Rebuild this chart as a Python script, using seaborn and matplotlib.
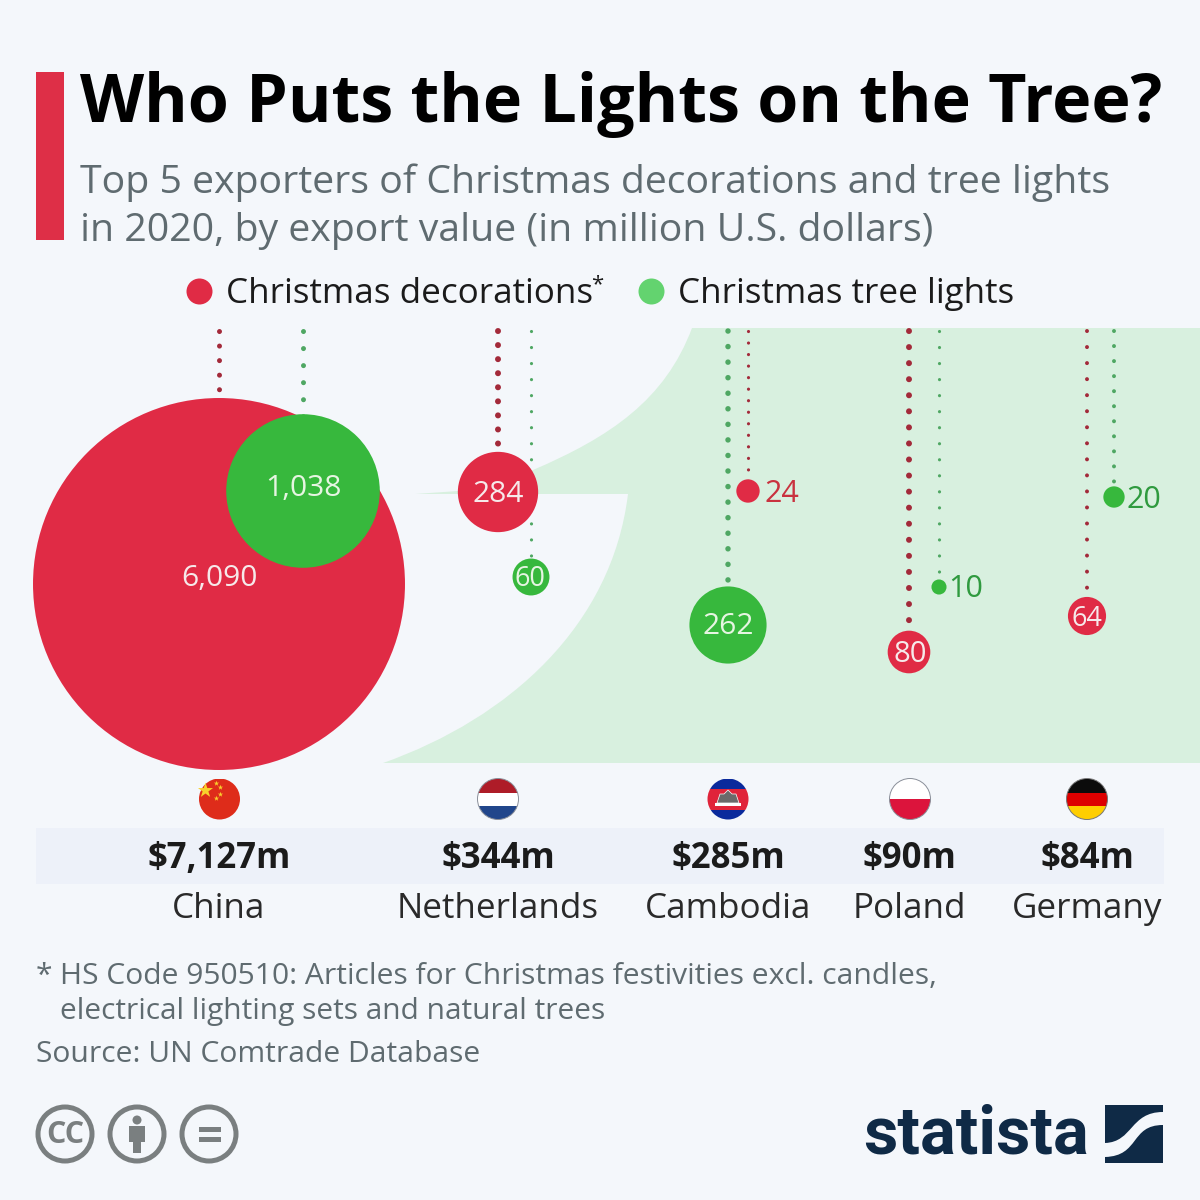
import numpy as np
import pandas as pd
import matplotlib
matplotlib.use('Agg')
import matplotlib.pyplot as plt
import seaborn as sns
from matplotlib.patches import Circle, PathPatch, Rectangle, Polygon
from matplotlib.path import Path

countries = ['China', 'Netherlands', 'Cambodia', 'Poland', 'Germany']
totals = ['$7,127m', '$344m', '$285m', '$90m', '$84m']
decorations = [6090, 284, 24, 80, 64]
tree_lights = [1038, 60, 262, 10, 20]
decoration_labels = ['6,090', '284', '24', '80', '64']
light_labels = ['1,038', '60', '262', '10', '20']

# layout, in pixels of the 1200x1200 picture
col_x = [219, 498, 728, 909, 1087]
red_x = [219, 498, 748, 909, 1087]
green_x = [303, 531, 728, 939, 1114]
red_y = [584, 492, 491, 652, 616]
green_y = [491, 577, 625, 587, 497]
red_dots = [(5, 14.5), (6, 14), (3.2, 11.5), (6, 16), (4, 16)]
green_dots = [(5, 17), (3.2, 16), (5.5, 15.5), (3.2, 16), (4, 15)]

BG = '#f4f7fb'
RED = '#e02b45'
GREEN = '#37b83d'
NAVY = '#0f2a46'
GREY = '#5f6b70'
PX = 0.72  # points per pixel at dpi 100
AREA = 5.68  # squared pixel radius per million dollars

sns.set_theme(style='white')
plt.rcParams['font.family'] = ['Open Sans', 'DejaVu Sans']

fig = plt.figure(figsize=(12, 12), dpi=100, facecolor=BG)
ax = fig.add_axes([0, 0, 1, 1])
ax.set_xlim(0, 1200)
ax.set_ylim(1200, 0)
ax.axis('off')

# tree silhouette in the background
tree = Path(
    [(692, 328), (1200, 328), (1200, 763), (383, 763),
     (510, 718), (612, 625), (628, 494),
     (415, 494), (458, 491),
     (498, 490), (533, 470),
     (610, 437), (665, 400), (692, 328), (692, 328)],
    [Path.MOVETO, Path.LINETO, Path.LINETO, Path.LINETO,
     Path.CURVE4, Path.CURVE4, Path.CURVE4,
     Path.LINETO, Path.LINETO,
     Path.LINETO, Path.LINETO,
     Path.CURVE4, Path.CURVE4, Path.CURVE4, Path.CLOSEPOLY])
ax.add_patch(PathPatch(tree, fc='#d8f0df', ec='none', zorder=0))

# strings
for xs, ys, dots, col in [(red_x, red_y, red_dots, '#a32a3a'), (green_x, green_y, green_dots, '#4fa763')]:
    for x, y, (w, gap) in zip(xs, ys, dots):
        ax.plot([x, x], [331, y], color=col, lw=w * PX, solid_capstyle='round',
                dash_capstyle='round', dashes=(0.01, gap / w), zorder=1)

# ornaments, area proportional to value
df = pd.DataFrame({
    'x': red_x + green_x,
    'y': red_y + green_y,
    'value': decorations + tree_lights,
    'series': ['decorations'] * 5 + ['lights'] * 5,
})
k = AREA * 4 * PX ** 2
vmin, vmax = df['value'].min(), df['value'].max()
sns.scatterplot(data=df, x='x', y='y', size='value', sizes=(k * vmin, k * vmax), size_norm=(vmin, vmax),
                hue='series', palette={'decorations': RED, 'lights': GREEN}, linewidth=0,
                legend=False, ax=ax, zorder=3)
ax.set_xlim(0, 1200)
ax.set_ylim(1200, 0)
ax.axis('off')

# value labels
def label(x, y, s, col='#f6e9ea', ha='center', size=21.6):
    ax.text(x, y, s, color=col, fontsize=size, ha=ha, va='center', zorder=5)

label(219, 578, decoration_labels[0])
label(303, 488, light_labels[0], '#e6f5e2')
label(498, 494, decoration_labels[1])
label(530, 579, light_labels[1], '#e6f5e2', size=19.5)
label(728, 627, light_labels[2], '#e6f5e2')
label(910, 655, decoration_labels[3], size=21)
label(1087, 619, decoration_labels[4], size=19.5)
label(764, 494, decoration_labels[2], '#c9323f', 'left', 22)
label(948, 589, light_labels[3], '#2f9a3f', 'left', 22)
label(1127, 500, light_labels[4], '#2f9a3f', 'left', 22)

# header
ax.add_patch(Rectangle((36, 72), 28, 168, fc='#de2f47', ec='none'))
ax.text(80, 105, 'Who Puts the Lights on the Tree?', fontsize=47.8, fontweight='bold', color='black', va='center')
ax.text(80, 182.5, 'Top 5 exporters of Christmas decorations and tree lights', fontsize=28.25, color=GREY, va='center')
ax.text(80, 230.5, 'in 2020, by export value (in million U.S. dollars)', fontsize=28.25, color=GREY, va='center')

# legend
ax.scatter([199], [291], s=(26 * PX) ** 2, color=RED, linewidth=0)
ax.scatter([651], [291], s=(26 * PX) ** 2, color='#63d36f', linewidth=0)
ax.text(226, 294, 'Christmas decorations', fontsize=25.2, color='#1b1b1b', va='center')
ax.text(591, 285, '*', fontsize=16, color='#1b1b1b', va='center')
ax.text(678, 294, 'Christmas tree lights', fontsize=25.2, color='#1b1b1b', va='center')

# totals band and country names
ax.add_patch(Rectangle((36, 828), 1128, 56, fc='#edf1f9', ec='none', zorder=0))
for x, tot, name in zip(col_x, totals, countries):
    ax.text(x, 859, tot, fontsize=25, fontweight='bold', color='#1b1b1b', ha='center', va='center')
    ax.text(x, 909, name, fontsize=25.2, color='#2a2a2a', ha='center', va='center')

# flags
def flag(cx, bands, edge=None):
    clip = Circle((cx, 799), 20.5, transform=ax.transData)
    top = 799 - 20.5
    for h, col in bands:
        r = Rectangle((cx - 21, top), 42, h, fc=col, ec='none', zorder=2)
        ax.add_patch(r)
        r.set_clip_path(clip)
        top += h
    if edge:
        ax.add_patch(Circle((cx, 799), 20.5, fc='none', ec=edge, lw=0.7, zorder=3))

flag(219.5, [(41, '#de2c1a')])
ax.scatter([205], [790], marker='*', s=130, color='#f8d02c', linewidth=0, zorder=3)
ax.scatter([216, 220, 220, 216], [783, 787, 794, 798], marker='*', s=16, color='#f8d02c', linewidth=0, zorder=3)
flag(498, [(14, '#ae1c28'), (13, 'white'), (14, '#21468b')], '#8a8f99')
flag(728, [(10, '#0a2a9c'), (21, '#e0243a'), (10, '#0a2a9c')])
ax.add_patch(Rectangle((715, 803), 26, 3, fc='white', ec='none', zorder=3))
ax.add_patch(Polygon([(717, 803), (720, 794), (724, 794), (728, 790), (732, 794), (736, 794), (739, 803)],
                     fc='#6a6a6a', ec='white', lw=0.5, zorder=3))
flag(910, [(20.5, 'white'), (20.5, '#dc143c')], '#8a8f99')
flag(1087, [(14, '#0b0b0b'), (13, '#dd0000'), (14, '#ffce00')], '#777777')

# footnote
ax.text(36, 976, '*', fontsize=21.6, color=GREY, va='center')
ax.text(60, 976, 'HS Code 950510: Articles for Christmas festivities excl. candles,', fontsize=21.6, color=GREY, va='center')
ax.text(60, 1012, 'electrical lighting sets and natural trees', fontsize=21.5, color=GREY, va='center')
ax.text(36, 1054, 'Source: UN Comtrade Database', fontsize=21.6, color=GREY, va='center')

# licence icons
ICON = '#7a7f80'
for cx in [65, 137, 209]:
    ax.add_patch(Circle((cx, 1134), 27, fc='none', ec=ICON, lw=5 * PX))
ax.text(65, 1135, 'CC', fontsize=22, fontweight='bold', color=ICON, ha='center', va='center')
ax.add_patch(Circle((137, 1120), 4.5, fc=ICON, ec='none'))
ax.add_patch(Polygon([(129, 1126), (145, 1126), (145, 1142), (141, 1142), (141, 1153), (133, 1153),
                      (133, 1142), (129, 1142)], fc=ICON, ec='none'))
ax.add_patch(Rectangle((199, 1127), 22, 5, fc=ICON, ec='none'))
ax.add_patch(Rectangle((199, 1137), 22, 5, fc=ICON, ec='none'))

# statista logo
ax.text(976, 1136, 'statista', fontsize=48, fontweight='bold', color=NAVY, ha='center', va='center', family='Roboto')
ax.add_patch(Rectangle((1105, 1105), 58, 58, fc=NAVY, ec='none'))
band = Path(
    [(1105, 1143), (1133, 1142), (1130, 1112), (1163, 1112),
     (1163, 1125), (1130, 1125), (1140, 1156), (1105, 1157), (1105, 1143)],
    [Path.MOVETO, Path.CURVE4, Path.CURVE4, Path.CURVE4,
     Path.LINETO, Path.CURVE4, Path.CURVE4, Path.CURVE4, Path.CLOSEPOLY])
ax.add_patch(PathPatch(band, fc=BG, ec='none'))

fig.savefig('out.png', dpi=100, facecolor=BG)
